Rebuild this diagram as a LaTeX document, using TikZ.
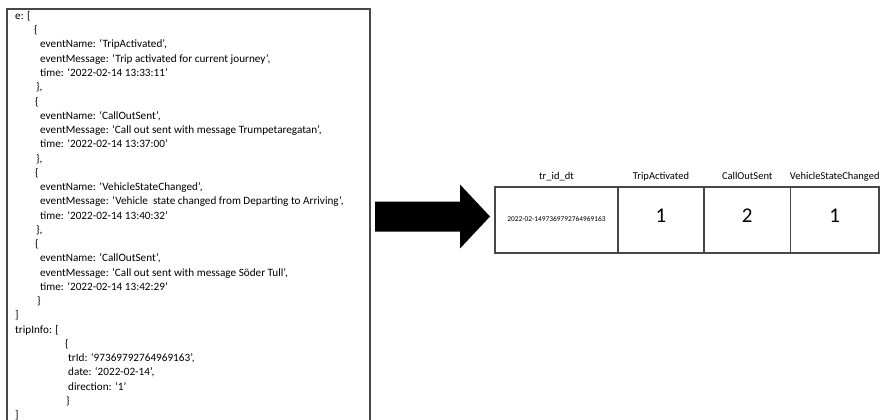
\documentclass[tikz,border=0pt]{standalone}
\usepackage{fontspec}
\setmainfont{Carlito}
\begin{document}
\begin{tikzpicture}[x=1pt,y=-1pt,
  code/.style={anchor=base west,inner sep=0pt,font=\fontsize{11.2}{14}\selectfont},
  frame/.style={draw=black!72,line width=1.3pt},
  cell/.style={draw=black!72,line width=1.2pt,minimum height=66pt,inner sep=0pt},
  head/.style={anchor=base,inner sep=0pt,font=\fontsize{10.5}{12}\selectfont},
  big/.style={anchor=base,inner sep=0pt,font=\fontsize{21}{24}\selectfont},
  tiny/.style={anchor=base,inner sep=0pt,font=\fontsize{7.4}{9}\selectfont}]
\useasboundingbox (0,0) rectangle (883,420);
\clip (0,0) rectangle (883,420);
\fill[white] (0,0) rectangle (883,420);

% JSON source frame (open at the bottom)
\draw[frame] (7,430) -- (7,9) -- (370,9) -- (370,430);

% JSON source text, one node per line
\def\ls{14.25}
\node[code] (l1)  at (15, 19.5+0*\ls)  {e: [};
\node[code] (l2)  at (34, 19.5+1*\ls)  {\{};
\node[code] (l3)  at (40, 19.5+2*\ls)  {eventName: ‘TripActivated’,};
\node[code] (l4)  at (40, 19.5+3*\ls)  {eventMessage: ‘Trip activated for current journey’,};
\node[code] (l5)  at (40, 19.5+4*\ls)  {time: ‘2022-02-14 13:33:11’};
\node[code] (l6)  at (36, 19.5+5*\ls)  {\},};
\node[code] (l7)  at (35, 19.5+6*\ls)  {\{};
\node[code] (l8)  at (40, 19.5+7*\ls)  {eventName: ‘CallOutSent’,};
\node[code] (l9)  at (40, 19.5+8*\ls)  {eventMessage: ‘Call out sent with message Trumpetaregatan’,};
\node[code] (l10) at (40, 19.5+9*\ls)  {time: ‘2022-02-14 13:37:00’};
\node[code] (l11) at (36, 19.5+10*\ls) {\},};
\node[code] (l12) at (35, 19.5+11*\ls) {\{};
\node[code] (l13) at (40, 19.5+12*\ls) {eventName: ‘VehicleStateChanged’,};
\node[code] (l14) at (40, 19.5+13*\ls) {eventMessage: ‘Vehicle\ \ state changed from Departing to Arriving’,};
\node[code] (l15) at (40, 19.5+14*\ls) {time: ‘2022-02-14 13:40:32’};
\node[code] (l16) at (36, 19.5+15*\ls) {\},};
\node[code] (l17) at (35, 19.5+16*\ls) {\{};
\node[code] (l18) at (40, 19.5+17*\ls) {eventName: ‘CallOutSent’,};
\node[code] (l19) at (40, 19.5+18*\ls) {eventMessage: ‘Call out sent with message Söder Tull’,};
\node[code] (l20) at (40, 19.5+19*\ls) {time: ‘2022-02-14 13:42:29’};
\node[code] (l21) at (37, 19.5+20*\ls) {\}};
\node[code] (l22) at (15, 19.5+21*\ls) {]};
\node[code] (l23) at (15, 19.5+22*\ls) {tripInfo: [};
\node[code] (l24) at (65, 19.5+23*\ls) {\{};
\node[code] (l25) at (68, 19.5+24*\ls) {trId: ‘97369792764969163’,};
\node[code] (l26) at (68, 19.5+25*\ls) {date: ‘2022-02-14’,};
\node[code] (l27) at (68, 19.5+26*\ls) {direction: ‘1’};
\node[code] (l28) at (66, 19.5+27*\ls) {\}};
\node[code] (l29) at (15, 19.5+28*\ls) {]};

% block arrow
\fill[black] (375,201.7) -- (460,201.7) -- (460,184.5) -- (490,216.5)
  -- (460,248.5) -- (460,231.7) -- (375,231.7) -- cycle;

% result table
\node[cell,minimum width=123pt] (c1) at (556.5,220) {};
\node[cell,minimum width=86pt]  (c2) at (661,220) {};
\node[cell,minimum width=86.5pt](c3) at (747.25,220) {};
\node[cell,minimum width=88.5pt](c4) at (834.75,220) {};

\node[head] (h1) at (c1.center |- 0,179.5) {tr\_id\_dt};
\node[head] (h2) at (c2.center |- 0,179.5) {TripActivated};
\node[head] (h3) at (c3.center |- 0,179.5) {CallOutSent};
\node[head] (h4) at (c4.center |- 0,179.5) {VehicleStateChanged};

\node[tiny] (v1) at (c1.center |- 0,221.8) {2022-02-1497369792764969163};
\node[big]  (v2) at (c2.center |- 0,222.7) {1};
\node[big]  (v3) at (c3.center |- 0,222.7) {2};
\node[big]  (v4) at (c4.center |- 0,222.7) {1};
\end{tikzpicture}
\end{document}
